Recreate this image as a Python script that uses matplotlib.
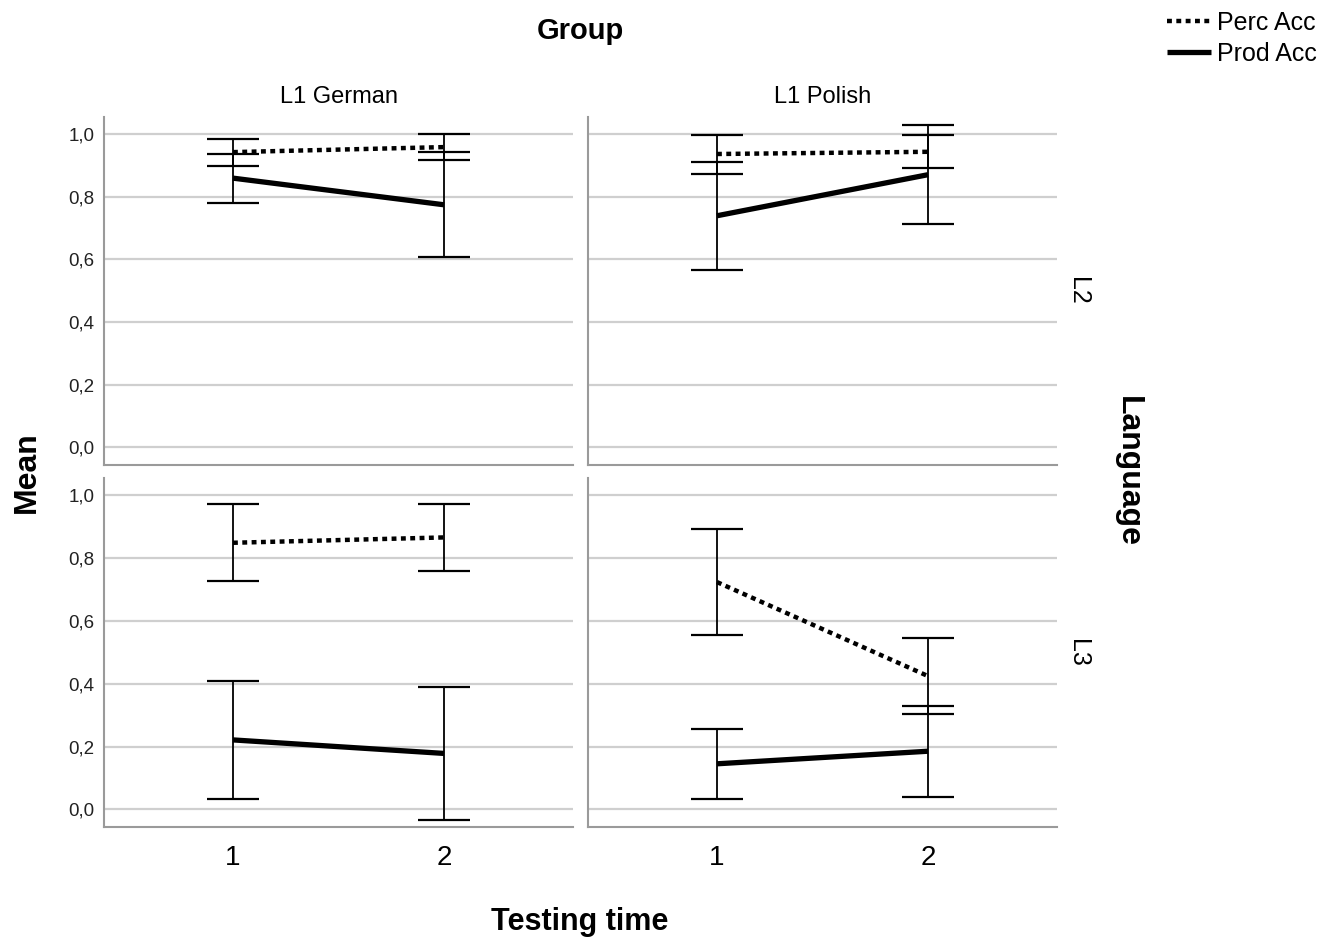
import numpy as np
import matplotlib.pyplot as plt

plt.rcParams['font.family'] = ['Liberation Sans', 'DejaVu Sans']

# data: [language][group][time]
times = [1, 2]
groups = ['L1 German', 'L1 Polish']
languages = ['L2', 'L3']

perc_mean = [[[0.942, 0.958], [0.936, 0.943]],
             [[0.848, 0.865], [0.723, 0.424]]]
perc_low = [[[0.899, 0.916], [0.873, 0.891]],
            [[0.725, 0.759], [0.555, 0.302]]]
perc_high = [[[0.984, 1.000], [0.998, 0.995]],
             [[0.971, 0.971], [0.892, 0.546]]]

prod_mean = [[[0.859, 0.774], [0.739, 0.870]],
             [[0.221, 0.178], [0.145, 0.185]]]
prod_low = [[[0.780, 0.608], [0.566, 0.713]],
            [[0.034, -0.035], [0.033, 0.040]]]
prod_high = [[[0.937, 0.941], [0.911, 1.027]],
             [[0.408, 0.389], [0.256, 0.330]]]

yticks = [0.0, 0.2, 0.4, 0.6, 0.8, 1.0]
ytick_labels = ['0,0', '0,2', '0,4', '0,6', '0,8', '1,0']

W, H = 1326, 943
fig = plt.figure(figsize=(W / 100, H / 100), dpi=100)

# panel boxes in pixels
col_x = [(104, 573), (588, 1057)]
row_y = [(117, 465), (478, 827)]

grid_col = '#cfcfcf'
spine_col = '#9a9a9a'
cap = 18.5

lines_for_legend = None
for r in range(2):
    for c in range(2):
        x0, x1 = col_x[c]
        y0, y1 = row_y[r]
        ax = fig.add_axes([x0 / W, 1 - y1 / H, (x1 - x0) / W, (y1 - y0) / H])
        ax.set_xlim(0.389, 2.611)
        ax.set_ylim(-0.056, 1.054)
        for s in ['top', 'right']:
            ax.spines[s].set_visible(False)
        for s in ['left', 'bottom']:
            ax.spines[s].set_color(spine_col)
            ax.spines[s].set_linewidth(1.5)
        ax.set_yticks(yticks)
        ax.yaxis.grid(True, color=grid_col, linewidth=1.6)
        ax.set_axisbelow(True)
        ax.tick_params(axis='y', length=0, labelsize=13.5,
                       labelcolor='#222222', pad=7)
        ax.tick_params(axis='x', length=0, labelsize=20, pad=13)
        ax.set_xticks(times)
        if c == 0:
            ax.set_yticklabels(ytick_labels)
        else:
            ax.set_yticklabels([])
        if r == 0:
            ax.set_xticklabels([])
        else:
            ax.set_xticklabels([str(t) for t in times])

        for mean, lo, hi in [(perc_mean, perc_low, perc_high),
                             (prod_mean, prod_low, prod_high)]:
            m = np.array(mean[r][c])
            err = [m - np.array(lo[r][c]), np.array(hi[r][c]) - m]
            ax.errorbar(times, m, yerr=err, fmt='none', ecolor='black',
                        elinewidth=1.3, capsize=cap, capthick=1.6, zorder=3)

        l1, = ax.plot(times, perc_mean[r][c], color='black', linewidth=3.2,
                      linestyle=(0, (1.1, 1.0)), dash_capstyle='butt', zorder=4)
        l2, = ax.plot(times, prod_mean[r][c], color='black', linewidth=3.8,
                      solid_capstyle='butt', zorder=4)
        lines_for_legend = (l1, l2)

        if r == 0:
            ax.set_title(groups[c], fontsize=17, pad=10)
        if c == 1:
            ax.text(1.045, 0.5, languages[r], transform=ax.transAxes,
                    rotation=-90, fontsize=18, va='center', ha='center')

fig.text(580 / W, 1 - 31 / H, 'Group', fontsize=21, fontweight='bold',
         ha='center', va='center')
fig.text(580 / W, 1 - 922 / H, 'Testing time', fontsize=22, fontweight='bold',
         ha='center', va='center')
fig.text(27 / W, 1 - 472 / H, 'Mean', fontsize=23, fontweight='bold',
         rotation=90, ha='center', va='center')
fig.text(1128 / W, 1 - 472 / H, 'Language', fontsize=23, fontweight='bold',
         rotation=-90, ha='center', va='center')

fig.legend(lines_for_legend, ['Perc Acc', 'Prod Acc'], loc='upper right',
           bbox_to_anchor=(0.997, 0.994), frameon=False, fontsize=18,
           handlelength=1.75, handletextpad=0.25, labelspacing=0.3,
           borderaxespad=0.1, borderpad=0.1)

fig.savefig('out.png', dpi=100)
